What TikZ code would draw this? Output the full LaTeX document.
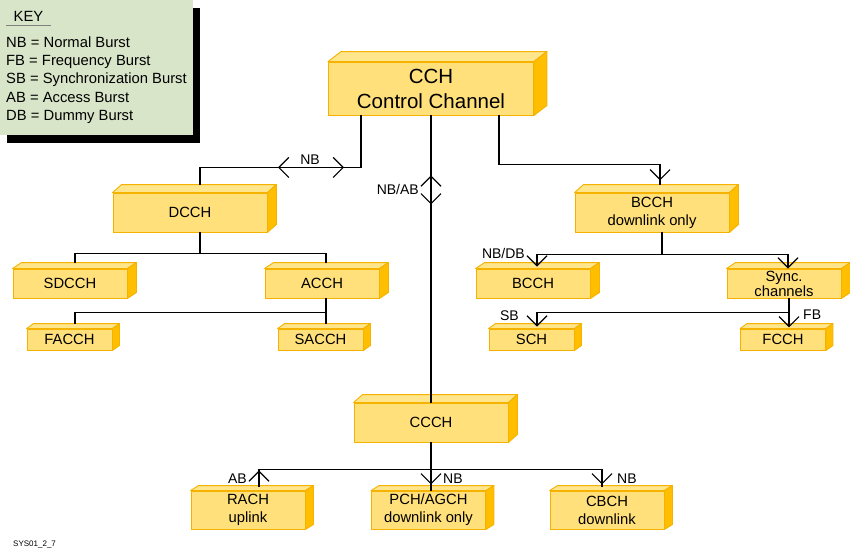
\documentclass[tikz,border=0pt]{standalone}
\usepackage{fontspec}
\setmainfont{Liberation Sans}
\usetikzlibrary{arrows.meta,shadows,decorations.markings}
\definecolor{boxfill}{HTML}{FFE07A}
\definecolor{boxtop}{HTML}{FFE58C}
\definecolor{boxside}{HTML}{FFBE00}
\definecolor{boxedge}{HTML}{F5B300}
\definecolor{keyfill}{HTML}{D9E5C9}

\begin{document}
\begin{tikzpicture}[x=1pt,y=-1pt,>={Straight Barb[length=10pt,width=20pt]}]
\tikzset{box/.style 2 args={draw=boxedge, fill=boxfill, line width=0.9pt, inner sep=0pt, align=center,
  font=\fontsize{14.8}{18}\selectfont,
  append after command={\pgfextra{
    \filldraw[fill=boxtop, draw=boxedge, line width=0.9pt, line join=round] (\tikzlastnode.north west) -- ++(#1,-#2) -- ([shift={(#1,-#2)}]\tikzlastnode.north east) -- (\tikzlastnode.north east) -- cycle;
    \filldraw[fill=boxside, draw=boxedge, line width=0.9pt, line join=round] (\tikzlastnode.north east) -- ++(#1,-#2) -- ([shift={(#1,-#2)}]\tikzlastnode.south east) -- (\tikzlastnode.south east) -- cycle;}}},
  tipfwd/.style={postaction={decorate,decoration={markings,mark=at position #1 with {\arrow{>}}}}},
  tipbwd/.style={postaction={decorate,decoration={markings,mark=at position #1 with {\arrowreversed{>}}}}}}
\tikzstyle{cchbox}=[box={13}{10}, minimum width=205, minimum height=53, font=\fontsize{20.5}{25}\selectfont]
\tikzstyle{bigbox}=[box={9}{8}, minimum width=154, minimum height=39]
\tikzstyle{midbox}=[box={9}{6}, minimum width=114, minimum height=29]
\tikzstyle{smallbox}=[box={7}{5}, minimum width=85, minimum height=21]
\tikzstyle{lowbox}=[box={8}{5}, minimum width=114, minimum height=38]
\tikzstyle{wire}=[draw, line width=1.2pt]
\tikzstyle{tag}=[inner sep=0pt, font=\fontsize{14}{16}\selectfont]
\tikzstyle{keybox}=[fill=keyfill, minimum width=193, minimum height=135, inner sep=0pt,
  drop shadow={shadow xshift=7pt, shadow yshift=-8pt, fill=black, opacity=1}]
\tikzstyle{keyitem}=[anchor=base west, inner sep=0pt, font=\fontsize{14.8}{18}\selectfont]

\useasboundingbox (0,0) rectangle (850,555);

% key
\node[keybox] (key) at (96.5,67.5) {};
\node[keyitem, anchor=center, minimum width=45, minimum height=18] (keyhead) at (28.5,16) {KEY};
\draw[line width=1.3pt, gray] (keyhead.south west) -- (keyhead.south east);
\foreach \t [count=\i] in {NB = Normal Burst, FB = Frequency Burst, SB = Synchronization Burst, AB = Access Burst, DB = Dummy Burst}
  \node[keyitem] (item\i) at (6,{29+18.3*\i}) {\t};

\node[cchbox] (cch) at (431,88.5) {CCH\\Control Channel};
\node[bigbox] (dcch) at (190,212.5) {DCCH};
\node[bigbox] (bcch) at (652,212.5) {BCCH\\downlink only};
\node[bigbox] (ccch) at (431,422.5) {CCCH};
\node[midbox] (sdcch) at (70,283.5) {SDCCH};
\node[midbox] (acch) at (322,283.5) {ACCH};
\node[midbox] (bcchd) at (533,283.5) {BCCH};
\node[midbox, font=\fontsize{14.8}{15}\selectfont] (sync) at (784,283.5) {Sync.\\channels};
\node[smallbox] (facch) at (69.5,339.5) {FACCH};
\node[smallbox] (sacch) at (320.5,339.5) {SACCH};
\node[smallbox] (sch) at (531.5,339.5) {SCH};
\node[smallbox] (fcch) at (783,339.5) {FCCH};
\node[lowbox] (rach) at (248,510) {RACH\\uplink};
\node[lowbox] (pch) at (428.5,510) {PCH/AGCH\\downlink only};
\node[lowbox] (cbch) at (607,510) {CBCH\\downlink};

\draw[wire, tipbwd=69pt, tipfwd=135pt] ([xshift=-70]cch.south) -- ++(0,52) -| ([xshift=10,yshift=8]dcch.north);
\draw[wire, tipbwd=60pt, tipfwd=89pt] (cch.south) -- (cch.south |- ccch.north);
\draw[wire, tipfwd=226pt] ([xshift=68]cch.south) -- ++(0,49) -| ([xshift=8,yshift=8]bcch.north);

\draw[wire] ([xshift=10]dcch.south) -- ++(0,21) -| ([xshift=5,yshift=6]sdcch.north);
\draw[wire] ([xshift=10]dcch.south) -- ++(0,21) -| ([xshift=4,yshift=6]acch.north);
\draw[wire] ([xshift=4]acch.south) -- ++(0,14) -| ([xshift=5.5,yshift=5]facch.north);
\draw[wire] ([xshift=4]acch.south) -- ([xshift=4,yshift=5]acch.south |- sacch.north);

\draw[wire,->] ([xshift=10]bcch.south) -- ++(0,22) -| ([xshift=4,yshift=2]bcchd.north);
\draw[wire,->] ([xshift=10]bcch.south) -- ++(0,22) -| ([xshift=4]sync.north);
\draw[wire,->] ([xshift=5]sync.south) -- ++(0,14) -| ([xshift=5.5,yshift=2]sch.north);
\draw[wire,->] ([xshift=5]sync.south) -- ++(0,29);

\draw[wire, tipbwd=200pt] (ccch.south) -- ++(0,27) -| ([xshift=11,yshift=4]rach.north);
\draw[wire, tipfwd=42pt] (ccch.south) -- (ccch.south |- pch.north);
\draw[wire, tipfwd=213pt] (ccch.south) -- ++(0,27) -| ([xshift=-5,yshift=4]cbch.north);

\node[tag] (tnb) at (310,160) {NB};
\node[tag, anchor=east] (tnbab) at (419,189) {NB/AB};
\node[tag, anchor=east] (tnbdb) at (525,253) {NB/DB};
\node[tag, anchor=east] (tsb) at (519,316) {SB};
\node[tag, anchor=west] (tfb) at (803,315) {FB};
\node[tag, anchor=east] (tab) at (247,479) {AB};
\node[tag, anchor=west] (tnbp) at (443,479) {NB};
\node[tag, anchor=west] (tnbc) at (617,479) {NB};
\node[anchor=base west, inner sep=0pt, font=\fontsize{8}{9}\selectfont] (ref) at (13,546) {SYS01\_2\_7};
\end{tikzpicture}
\end{document}
